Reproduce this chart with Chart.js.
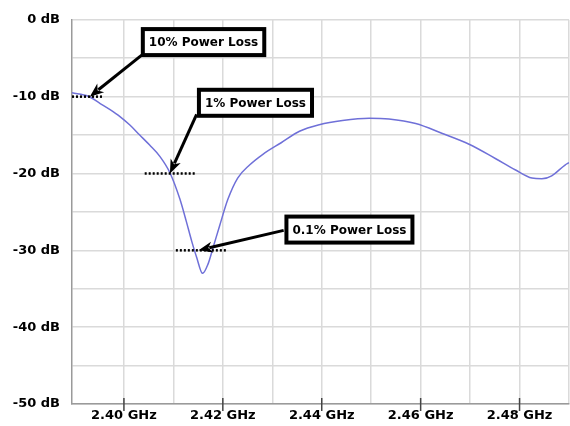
<!DOCTYPE html>
<html>
<head>
<meta charset="utf-8">
<script src="https://cdn.jsdelivr.net/npm/chart.js@4/dist/chart.umd.min.js"></script>
<style>
  html, body { margin: 0; padding: 0; background: #fff; }
  #wrap { width: 570px; height: 426px; }
</style>
</head>
<body>
<div id="wrap"><canvas id="lossChart"></canvas></div>
<script>
// return loss curve
const freqGHz = [2.3895, 2.3928, 2.3952, 2.3972, 2.3992, 2.4012, 2.4032, 2.4052, 2.4073, 2.4093,
  2.4113, 2.4126, 2.4137, 2.4147, 2.4159, 2.4170, 2.4180, 2.4194, 2.4210, 2.4230,
  2.4254, 2.4281, 2.4318, 2.4355, 2.4395, 2.4442, 2.4496, 2.4536, 2.4590, 2.4644,
  2.4698, 2.4751, 2.4792, 2.4825, 2.4845, 2.4865, 2.4892, 2.4900];
const lossDb = [-9.5, -9.95, -10.9, -11.7, -12.6, -13.7, -15.0, -16.3, -17.8, -19.9,
  -23.3, -26.2, -28.8, -30.9, -33.0, -31.8, -29.7, -26.7, -23.4, -20.6,
  -18.9, -17.5, -16.0, -14.5, -13.65, -13.1, -12.8, -12.9, -13.5, -14.8,
  -16.2, -18.05, -19.55, -20.6, -20.7, -20.3, -18.9, -18.6];

const xGridValues = [2.40, 2.41, 2.42, 2.43, 2.44, 2.45, 2.46, 2.47, 2.48, 2.49];
const xTickValues = [2.40, 2.42, 2.44, 2.46, 2.48];
const xTickLabels = ["2.40 GHz", "2.42 GHz", "2.44 GHz", "2.46 GHz", "2.48 GHz"];
const yTickValues = [0, -10, -20, -30, -40, -50];
const yTickLabels = ["0 dB", "-10 dB", "-20 dB", "-30 dB", "-40 dB", "-50 dB"];

// callouts
const calloutLabels = ["10% Power Loss", "1% Power Loss", "0.1% Power Loss"];
const calloutLevels = [-10, -20, -30];
const calloutSpans = [[2.3895, 2.3958], [2.4042, 2.4147], [2.4105, 2.4210]];
const calloutTips = [[2.3931, -10], [2.4093, -20], [2.4151, -30]];
const calloutTails = [[2.4036, -4.6], [2.4147, -12.3], [2.4323, -27.4]];
const calloutBoxes = [[2.4161, -2.9], [2.4266, -10.8], [2.4456, -27.3]];

const FONT = "DejaVu Sans, sans-serif";

function labelFor(values, labels, v) {
  for (let i = 0; i < values.length; i++) {
    if (Math.abs(values[i] - v) < 1e-6) return labels[i];
  }
  return null;
}

const calloutPlugin = {
  id: "callouts",
  afterDraw(chart) {
    const c = chart.ctx;
    const xs = chart.scales.x, ys = chart.scales.y;
    c.save();

    // tick marks across the x axis
    c.strokeStyle = "#444";
    c.lineWidth = 1.5;
    xTickValues.forEach(v => {
      const x = xs.getPixelForValue(v);
      c.beginPath();
      c.moveTo(x, xs.top - 6);
      c.lineTo(x, xs.top + 7);
      c.stroke();
    });

    // dotted level lines
    c.strokeStyle = "#000";
    c.lineWidth = 2.5;
    c.setLineDash([2, 2]);
    calloutLevels.forEach((lvl, i) => {
      const y = ys.getPixelForValue(lvl);
      c.beginPath();
      c.moveTo(xs.getPixelForValue(calloutSpans[i][0]), y);
      c.lineTo(xs.getPixelForValue(calloutSpans[i][1]), y);
      c.stroke();
    });
    c.setLineDash([]);

    // arrows
    calloutTips.forEach((tip, i) => {
      const x1 = xs.getPixelForValue(calloutTails[i][0]), y1 = ys.getPixelForValue(calloutTails[i][1]);
      const x2 = xs.getPixelForValue(tip[0]), y2 = ys.getPixelForValue(tip[1]);
      const a = Math.atan2(y2 - y1, x2 - x1);
      const head = 14, half = 5.5;
      const bx = x2 - head * Math.cos(a), by = y2 - head * Math.sin(a);
      c.strokeStyle = "#000";
      c.lineWidth = 3;
      c.beginPath();
      c.moveTo(x1, y1);
      c.lineTo(bx + 3 * Math.cos(a), by + 3 * Math.sin(a));
      c.stroke();
      c.fillStyle = "#000";
      c.beginPath();
      c.moveTo(x2, y2);
      c.lineTo(bx - half * Math.sin(a), by + half * Math.cos(a));
      c.lineTo(bx + 4 * Math.cos(a), by + 4 * Math.sin(a));
      c.lineTo(bx + half * Math.sin(a), by - half * Math.cos(a));
      c.closePath();
      c.fill();
    });

    // label boxes
    c.font = "bold 12px " + FONT;
    c.textAlign = "center";
    c.textBaseline = "middle";
    calloutLabels.forEach((txt, i) => {
      const cx = xs.getPixelForValue(calloutBoxes[i][0]);
      const cy = ys.getPixelForValue(calloutBoxes[i][1]);
      const w = c.measureText(txt).width + 12;
      const h = 26;
      c.fillStyle = "#fff";
      c.fillRect(cx - w / 2, cy - h / 2, w, h);
      c.strokeStyle = "#000";
      c.lineWidth = 4;
      c.strokeRect(cx - w / 2, cy - h / 2, w, h);
      c.fillStyle = "#000";
      c.fillText(txt, cx, cy + 1);
    });
    c.restore();
  }
};

new Chart(document.getElementById("lossChart"), {
  type: "line",
  data: {
    datasets: [{
      data: freqGHz.map((f, i) => ({ x: f, y: lossDb[i] })),
      borderColor: "#6f70d8",
      borderWidth: 1.5,
      pointRadius: 0,
      cubicInterpolationMode: "monotone",
      fill: false
    }]
  },
  options: {
    responsive: true,
    maintainAspectRatio: false,
    animation: false,
    layout: { padding: { top: 17, right: 1, left: 0, bottom: 0 } },
    plugins: { legend: { display: false }, tooltip: { enabled: false } },
    scales: {
      x: {
        type: "linear",
        min: 2.3895,
        max: 2.49,
        afterBuildTicks(scale) {
          scale.ticks = xGridValues.map(v => ({ value: v }));
        },
        afterFit(scale) {
          scale.height = 22;
          scale.paddingLeft = 0;
          scale.paddingRight = 0;
        },
        grid: {
          color: "#dadada",
          lineWidth: 1.5,
          drawTicks: false
        },
        border: { color: "#9a9a9a", width: 1.5 },
        ticks: {
          autoSkip: false,
          maxRotation: 0,
          padding: 4,
          color: "#000",
          font: { family: FONT, size: 13, weight: "bold" },
          callback: v => labelFor(xTickValues, xTickLabels, v) || ""
        }
      },
      y: {
        min: -50,
        max: 0,
        ticks: {
          stepSize: 5,
          padding: 12,
          color: "#000",
          font: { family: FONT, size: 13, weight: "bold" },
          callback: v => labelFor(yTickValues, yTickLabels, v) || ""
        },
        afterFit(scale) { scale.width = 72; },
        grid: { color: "#dadada", lineWidth: 1.5, drawTicks: false },
        border: { color: "#9a9a9a", width: 1.5 }
      }
    }
  },
  plugins: [calloutPlugin]
});
</script>
</body>
</html>
